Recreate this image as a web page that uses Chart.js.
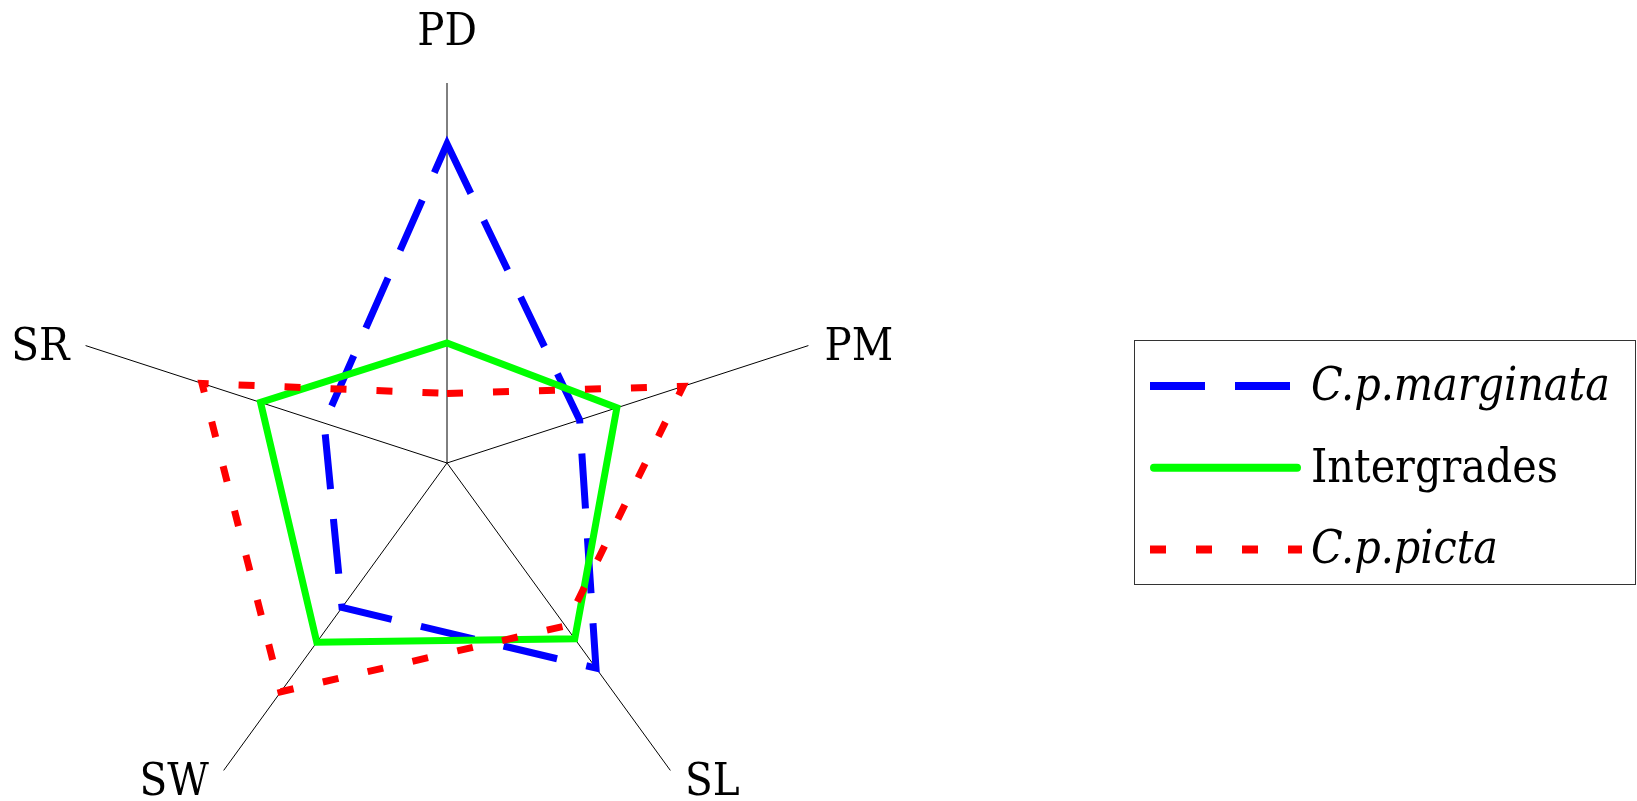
<!DOCTYPE html>
<html lang="en">
<head>
<meta charset="utf-8">
<title>Radar</title>
<script src="https://cdn.jsdelivr.net/npm/chart.js@4.4.1/dist/chart.umd.min.js"></script>
<style>
    html, body { margin: 0; padding: 0; background: #fff; overflow: hidden; }
    canvas { display: block; }
</style>
</head>
<body>
<canvas id="radar" width="1637" height="860"></canvas>
<script>
const categorias = ['PD', 'PM', 'SL', 'SW', 'SR'];
const nomesSeries = ['C.p.marginata', 'Intergrades', 'C.p.picta'];
const marginata = [0.84, 0.367, 0.667, 0.47, 0.34];
const intergrades = [0.316, 0.47, 0.572, 0.583, 0.516];
const picta = [0.183, 0.653, 0.53, 0.744, 0.678];

const italico = [true, false, true];
const fonte = '"DejaVu Serif Condensed", "DejaVu Serif", serif';

// rotulos dos eixos desenhados fora da area do grafico
const rotulosEixos = {
    id: 'rotulosEixos',
    afterDraw(chart) {
        const escala = chart.scales.r;
        const ctx = chart.ctx;
        ctx.save();
        ctx.font = `condensed 45px ${fonte}`;
        ctx.fillStyle = '#000';
        ctx.textBaseline = 'alphabetic';
        chart.data.labels.forEach((rotulo, i) => {
            const dir = escala.getPointPosition(i, 100);
            const dx = dir.x - escala.xCenter;
            const dy = dir.y - escala.yCenter;
            let distancia = 38, alinhamento = 'center', desloc = 0;
            if (Math.abs(dx) > 1) {
                alinhamento = dx > 0 ? 'left' : 'right';
                if (dy < 0) { distancia = 17; desloc = 20; }
                else { distancia = 25; desloc = 4; }
            }
            const p = escala.getPointPosition(i, escala.drawingArea + distancia);
            ctx.textAlign = alinhamento;
            ctx.fillText(rotulo, p.x, p.y + desloc);
        });
        ctx.restore();
    }
};

// legenda com caixa, a direita
const legendaCaixa = {
    id: 'legendaCaixa',
    afterDraw(chart) {
        const ctx = chart.ctx;
        ctx.save();
        ctx.strokeStyle = '#333';
        ctx.lineWidth = 1;
        ctx.setLineDash([]);
        ctx.strokeRect(1134.5, 340.5, 501, 244);

        chart.data.datasets.forEach((ds, i) => {
            const y = 386 + i * 81.7;
            const tracejado = ds.borderDash && ds.borderDash.length;
            ctx.strokeStyle = ds.borderColor;
            ctx.lineWidth = 8;
            ctx.setLineDash(tracejado ? ds.borderDash : []);
            ctx.lineCap = tracejado ? 'butt' : 'round';
            ctx.beginPath();
            ctx.moveTo(tracejado ? 1150 : 1154, y);
            ctx.lineTo(tracejado ? 1302 : 1297, y);
            ctx.stroke();

            ctx.setLineDash([]);
            ctx.fillStyle = '#000';
            ctx.font = `${italico[i] ? 'italic ' : ''}condensed 46px ${fonte}`;
            ctx.textAlign = 'left';
            ctx.textBaseline = 'alphabetic';
            ctx.fillText(ds.label, 1311, y + 14);
        });
        ctx.restore();
    }
};

new Chart(document.getElementById('radar'), {
    type: 'radar',
    data: {
        labels: categorias,
        datasets: [
            { label: nomesSeries[0], data: marginata, borderColor: '#0000ff', borderWidth: 7, borderDash: [55, 30], order: 2 },
            { label: nomesSeries[1], data: intergrades, borderColor: '#00ff00', borderWidth: 7, order: 1 },
            { label: nomesSeries[2], data: picta, borderColor: '#ff0000', borderWidth: 7, borderDash: [16, 30], order: 0 },
        ],
    },
    options: {
        responsive: false,
        animation: false,
        devicePixelRatio: 1,
        layout: { padding: { left: 67, top: 83, right: 810, bottom: 17 } },
        elements: {
            point: { radius: 0, hoverRadius: 0 },
            line: { tension: 0, fill: false, borderJoinStyle: 'miter', borderCapStyle: 'butt' },
        },
        plugins: { legend: { display: false }, tooltip: { enabled: false } },
        scales: {
            r: {
                min: 0,
                max: 1,
                ticks: { display: false },
                grid: { display: false },
                angleLines: { display: true, color: '#000', lineWidth: 1 },
                pointLabels: { display: false },
            },
        },
    },
    plugins: [rotulosEixos, legendaCaixa],
});
</script>
</body>
</html>
